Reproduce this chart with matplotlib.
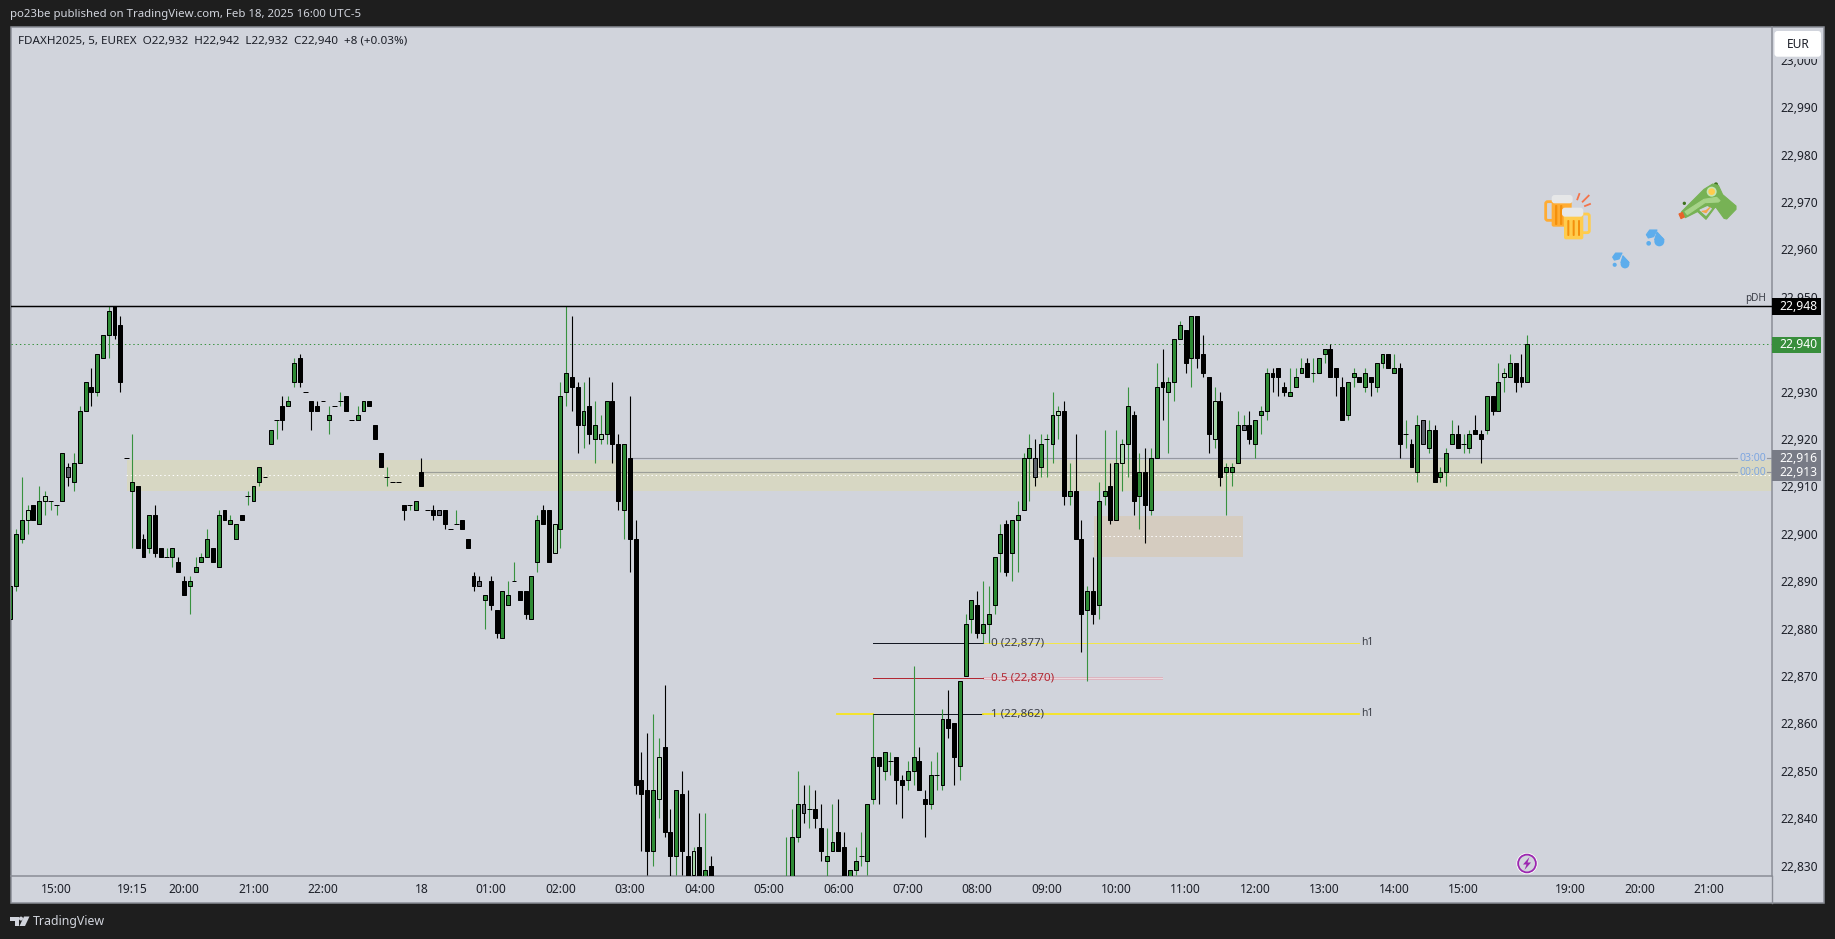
import matplotlib
matplotlib.use("Agg")
import matplotlib.pyplot as plt
from matplotlib.patches import Rectangle, Circle, Polygon, FancyBboxPatch

BASE = 22000
opens = [
882,889,899,903,906,902,907,907,906,907,
914,911,915,926,931,930,937,942,948,944,
916,909,910,899,897,904,897,895,895,894,
890,889,892,894,895,897,893,905,902,899,
904,908,907,911,912,919,924,927,927,932,
937,930,928,927,928,924,927,928,929,924,
924,926,928,923,917,912,911,911,906,906,
905,913,905,905,905,905,901,902,903,899,
891,890,886,890,884,878,885,890,888,888,
882,894,905,905,896,901,930,933,931,923,
927,920,920,921,928,919,905,916,899,848,
846,833,844,855,837,832,845,832,828,834,
826,830,824,821,818,820,817,815,818,816,
819,821,820,823,825,826,836,843,842,842,
838,831,833,837,834,826,829,832,831,844,
853,850,852,853,848,848,850,852,844,843,
849,847,861,860,851,870,882,885,879,881,
885,896,902,896,903,905,916,916,914,920,
919,925,926,908,909,899,884,888,885,908,
910,903,915,919,925,908,913,905,916,932,
930,932,941,943,937,946,938,933,920,928,
913,913,915,922,923,919,925,926,934,935,
931,929,931,934,936,934,934,938,939,935,
931,925,933,933,931,933,931,936,938,934,
935,921,919,913,919,918,922,912,913,919,
921,919,918,922,921,922,929,926,933,933,
936,933,932]
closes = [
889,900,903,905,903,907,908,907,906,917,
912,915,926,932,930,938,942,947,942,932,
916,911,897,895,904,896,895,895,897,892,
887,890,893,895,899,894,904,903,903,902,
903,908,910,914,912,922,924,924,928,936,
932,930,926,926,928,925,927,928,926,924,
925,928,927,920,914,912,911,911,905,906,
907,910,905,904,904,902,901,902,901,897,
889,889,887,885,879,888,887,890,886,883,
891,903,902,894,902,929,934,931,923,926,
921,923,921,928,919,907,919,899,847,845,
833,846,853,837,832,846,833,826,833,825,
829,825,821,818,820,817,815,818,816,819,
821,820,823,825,827,836,843,841,842,840,
833,832,835,833,826,829,831,832,843,853,
851,854,852,848,847,850,853,846,843,849,
849,861,859,853,869,881,886,879,881,883,
895,900,892,903,904,916,918,912,919,920,
925,926,908,909,899,883,888,883,907,909,
903,915,919,927,907,913,906,916,931,931,
932,941,944,936,946,937,934,921,928,912,
914,914,923,923,920,924,926,934,933,933,
930,930,933,935,933,934,937,939,933,933,
924,932,934,932,934,932,936,938,935,935,
919,921,914,923,924,922,911,913,917,921,
918,919,921,921,920,929,926,932,934,936,
932,932,940]
highs = [
891,901,912,906,906,910,909,907,906,917,
915,917,927,932,935,938,942,948,948,946,
916,921,910,900,904,906,897,897,897,895,
891,891,895,896,901,897,905,905,904,902,
904,909,910,914,912,922,924,929,929,937,
938,930,928,928,928,927,927,930,929,924,
927,928,928,923,917,914,911,911,906,906,
907,916,905,906,905,905,901,905,903,899,
892,891,887,891,884,888,890,894,888,888,
891,904,906,905,902,932,948,946,932,932,
933,928,925,928,932,921,919,929,903,854,
858,862,857,868,842,846,850,846,834,841,
841,832,826,823,822,822,819,820,821,822,
823,824,825,827,836,842,850,847,847,846,
843,838,843,844,837,829,834,837,843,862,
853,854,854,853,849,852,872,855,846,852,
854,863,867,860,869,883,886,888,890,889,
895,902,903,903,907,917,921,920,921,921,
930,927,928,915,921,903,889,895,911,922,
915,922,920,931,926,917,918,918,936,939,
933,941,945,943,946,946,942,933,931,930,
915,915,926,925,926,924,927,935,935,935,
932,935,935,937,937,937,937,939,940,935,
933,932,935,933,935,933,936,938,938,938,
936,924,920,925,924,924,923,914,918,924,
923,921,922,925,922,929,929,936,935,938,
936,938,942]
lows = [
882,888,898,900,903,902,904,905,904,907,
910,909,915,926,927,929,937,937,941,930,
916,897,897,895,896,895,895,895,893,892,
887,883,892,894,895,894,893,903,902,899,
903,906,907,910,912,919,920,922,927,931,
931,930,922,926,928,921,927,927,926,924,
924,926,927,920,914,910,911,911,903,905,
905,910,905,903,904,901,901,902,901,897,
888,889,880,884,878,878,885,890,886,882,
882,892,902,894,896,897,927,926,917,918,
919,915,919,919,915,905,899,892,845,833,
828,830,840,836,826,828,828,824,827,823,
825,823,820,816,816,815,813,814,815,815,
817,818,819,822,824,825,835,839,838,838,
831,827,833,833,825,825,828,830,828,843,
843,848,849,843,840,846,847,846,836,842,
846,846,857,847,848,870,879,878,877,877,
883,892,891,890,892,905,907,910,912,912,
915,920,906,906,899,875,869,881,882,906,
902,903,909,912,904,901,898,904,916,924,
917,928,941,934,931,935,933,917,918,910,
904,910,915,922,919,916,921,924,930,929,
929,929,931,934,933,932,934,936,933,929,
924,924,931,932,930,929,930,935,935,934,
916,918,914,911,919,917,911,911,910,919,
918,917,917,921,915,921,925,926,930,933,
930,931,932]
# doji bars whose wick is green
green_dojis = [7,8,27,41,46,57,65,69,77,87,138,147,152,160,179,225,241,251]
pale_bars = [3,6,94,102,112,118,181,192,208,258]
grey_bars = [10,74,81,137,177,213,244]

time_ticks = [8,21,30,42,54,71,83,95,107,119,131,143,155,167,179,191,203,215,227,239,251,269.4,281.4,293.4]
time_labels = ["15:00","19:15","20:00","21:00","22:00","18","01:00","02:00","03:00","04:00","05:00","06:00",
               "07:00","08:00","09:00","10:00","11:00","12:00","13:00","14:00","15:00","19:00","20:00","21:00"]
price_ticks = [22830+10*i for i in range(18)]

pdh = 22948
last_close = 22940
level_0300 = 22916
level_0000 = 22913
zone_top, zone_bottom, zone_mid = 22915.6, 22909, 22912.5
box_top, box_bottom, box_mid = 22903.8, 22895, 22899.5
fib0, fib05, fib1 = 22877, 22869.5, 22862

W, H = 1835, 939
BAR0_PX, BAR_PX = 10.3, 5.79
TOP_PX, BOTTOM_PX = 27, 876
LEFT_PX, AXIS_PX = 10.5, 1771.5
PT_PX = 4.739
P_REF, P_REF_PX = 22948, 306.3

DARK = "#1e1e1e"
PANEL = "#d1d4dc"
EDGE = "#8a8d96"
GREEN = "#2e8b35"
WICK_G = "#38923f"
TXT = "#1c1f28"
FONT = "Noto Sans"
plt.rcParams["font.family"] = [FONT, "DejaVu Sans"]

fig = plt.figure(figsize=(W/100, H/100), dpi=100, facecolor=DARK)

def full_axes(z):
    a = fig.add_axes([0, 0, 1, 1], zorder=z)
    a.set_xlim(0, W); a.set_ylim(H, 0); a.axis("off")
    a.patch.set_alpha(0)
    return a

bg = full_axes(0)
bg.add_patch(Rectangle((LEFT_PX, TOP_PX), 1824-LEFT_PX, 903-TOP_PX, fc=PANEL, ec=EDGE, lw=1.1))

ax = fig.add_axes([LEFT_PX/W, 1-BOTTOM_PX/H, (AXIS_PX-LEFT_PX)/W, (BOTTOM_PX-TOP_PX)/H], zorder=1)
ax.patch.set_alpha(0)
ax.set_xlim((LEFT_PX-BAR0_PX)/BAR_PX, (AXIS_PX-BAR0_PX)/BAR_PX)
ax.set_ylim(P_REF-(BOTTOM_PX-P_REF_PX)/PT_PX, P_REF+(P_REF_PX-TOP_PX)/PT_PX)
for s in ("top", "left"):
    ax.spines[s].set_visible(False)
for s in ("right", "bottom"):
    ax.spines[s].set_color(EDGE); ax.spines[s].set_linewidth(1.1)

ax.yaxis.tick_right()
ax.set_yticks(price_ticks)
ax.set_yticklabels([f"{p:,}" for p in price_ticks])
ax.set_xticks(time_ticks)
ax.set_xticklabels(time_labels)
ax.tick_params(axis="y", length=0, pad=6.5, labelsize=8.6, labelcolor=TXT)
ax.tick_params(axis="x", length=0, pad=5.0, labelsize=8.6, labelcolor=TXT)
for lab in ax.get_xticklabels():
    if lab.get_text() == "18":
        lab.set_fontweight("bold")

LW = 0.72
DOT = (0, (1.4, 2.8))
right_end = ax.get_xlim()[1]
left_end = ax.get_xlim()[0]

# zones
ax.fill_between([20.1, right_end], zone_bottom, zone_top, color="#d7d7c3", lw=0, zorder=1)
ax.plot([20.0, right_end], [zone_mid]*2, color="white", lw=LW, ls=DOT, zorder=2)
ax.fill_between([187.2, 212.9], box_bottom, box_top, color="#d5ccc0", lw=0, zorder=1)
ax.plot([186.9, 212.6], [box_mid]*2, color="white", lw=LW, ls=DOT, zorder=2)

# session levels
ax.plot([107.3, 298.2], [level_0300]*2, color="#9598a1", lw=0.85, zorder=2)
ax.plot([71, 298.2], [level_0000]*2, color="#9c9f98", lw=0.85, zorder=2)
ax.plot([303.4, right_end], [level_0300]*2, color="#9598a1", lw=0.85, zorder=2)
ax.plot([303.4, right_end], [level_0000]*2, color="#9598a1", lw=0.85, zorder=2)

# last price
ax.plot([left_end, right_end], [last_close]*2, color="#38923f", lw=LW, ls=DOT, zorder=2)

# fib levels
ax.plot([168, 233], [fib0]*2, color="#f2e64a", lw=0.72, zorder=2)
ax.plot([149, 168], [fib0]*2, color="#131722", lw=LW, zorder=2)
ax.fill_between([168, 199], fib05-0.3, fib05+0.3, color="#dcb4bf", lw=0, zorder=1)
ax.plot([168, 199], [fib05]*2, color="white", lw=LW, ls=(0, (1, 1)), zorder=2)
ax.plot([149, 168], [fib05]*2, color="#b22833", lw=LW, zorder=2)
ax.plot([142.8, 149], [fib1]*2, color="#f7e51e", lw=1.3, zorder=2)
ax.plot([149, 168], [fib1]*2, color="#131722", lw=LW, zorder=2)
ax.plot([168, 233], [fib1]*2, color="#f7e51e", lw=1.3, zorder=2)

# candles
for i, (o, h, l, c) in enumerate(zip(opens, highs, lows, closes)):
    o, h, l, c = o+BASE, h+BASE, l+BASE, c+BASE
    up = c > o or i in green_dojis
    wick = WICK_G if up else "black"
    if h > l:
        ax.plot([i, i], [l, h], color=wick, lw=0.8, zorder=3, solid_capstyle="butt")
    if o == c:
        ax.plot([i-0.42, i+0.42], [o, o], color="black", lw=LW, zorder=4, solid_capstyle="butt")
    else:
        if i in pale_bars:
            fill = "#a5d6a7"
        elif i in grey_bars:
            fill = "#5d606b"
        elif c > o:
            fill = GREEN
        else:
            fill = "black"
        ax.bar(i, abs(c-o), bottom=min(o, c), width=0.68, color=fill, edgecolor="black", linewidth=LW, zorder=4)

# previous-day-high line goes over the candles
ax.plot([left_end, right_end], [pdh]*2, color="black", lw=1.05, zorder=5)

# fib labels
lx = 169.4
ax.text(lx, fib0, "0 (22,877)", color="#3a3d46", fontsize=8.4, va="center", zorder=6)
ax.text(lx, fib05, "0.5 (22,870)", color="#b22833", fontsize=8.4, va="center", zorder=6)
ax.text(lx, fib1, "1 (22,862)", color="#3a3d46", fontsize=8.4, va="center", zorder=6)
ax.text(234.4, fib0, "h1", color="#3a3d46", fontsize=7.4, va="center", ha="center", zorder=6)
ax.text(234.4, fib1, "h1", color="#3a3d46", fontsize=7.4, va="center", ha="center", zorder=6)

# overlay
ov = full_axes(2)
ov.plot([AXIS_PX, AXIS_PX], [876, 903], color=EDGE, lw=1.0)
ov.text(10, 15, "po23be published on TradingView.com, Feb 18, 2025 16:00 UTC-5", color="#d1d4dc",
        fontsize=8.22, va="center")
ov.text(18, 41, "FDAXH2025, 5, EUREX  O22,932  H22,942  L22,932  C22,940  +8 (+0.03%)", color=TXT,
        fontsize=8.4, va="center")
ov.text(1756, 298.7, "pDH", color="#3a3d46", fontsize=7.2, va="center", ha="center")
ov.text(1753, 458.3, "03:00", color="#7ea6e0", fontsize=7.6, va="center", ha="center")
ov.text(1753, 472.5, "00:00", color="#7ea6e0", fontsize=7.6, va="center", ha="center")

def price_box(y0, y1, color, label, yc):
    ov.add_patch(Rectangle((AXIS_PX, y0), 1821-AXIS_PX, y1-y0, fc=color, ec="none"))
    ov.text(1798, yc, label, color="white", fontsize=8.7, fontweight="bold", va="center", ha="center")

price_box(298, 315, "black", "22,948", 306)
price_box(337, 353, "#388e3c", "22,940", 345)
price_box(450, 481, "#787b86", "22,916", 458)
ov.text(1798, 472.5, "22,913", color="white", fontsize=8.7, fontweight="bold", va="center", ha="center")

ov.add_patch(Rectangle((1772.5, 28), 50, 31, fc=PANEL, ec="none"))
ov.add_patch(FancyBboxPatch((1774.5, 31), 46.5, 25.7, boxstyle="round,pad=0,rounding_size=3", fc="white", ec="none"))
ov.text(1798, 44.5, "EUR", color=TXT, fontsize=8.6, va="center", ha="center")

# bolt icon
ov.add_patch(Circle((1527, 863.5), 10.6, fc="white", ec="none"))
ov.add_patch(Circle((1527, 863.5), 8.9, fc=PANEL, ec="#9c27b0", lw=1.3))
ov.add_patch(Polygon([(1529.5, 857), (1523, 864.5), (1526.5, 864.5), (1524.5, 870), (1531, 862.5), (1527.5, 862.5)],
                     fc="#9c27b0", ec="none"))

# emojis, given in 3x crop coordinates around (1500, 170)
ex = lambda x: 1500 + x/3
ey = lambda y: 170 + y/3
def poly(pts, color, z=3):
    ov.add_patch(Polygon([(ex(a), ey(b)) for a, b in pts], fc=color, ec=color, lw=0.8, joinstyle="round", zorder=z))
def disc(x, y, r, color, z=3):
    ov.add_patch(Circle((ex(x), ey(y)), r/3, fc=color, ec="none", zorder=z))
def rrect(x0, y0, x1, y1, color, z=3, rad=2):
    ov.add_patch(FancyBboxPatch((ex(x0), ey(y0)), (x1-x0)/3, (y1-y0)/3,
                                boxstyle=f"round,pad=0,rounding_size={rad}", fc=color, ec="none", zorder=z))

# back mug
ov.add_patch(FancyBboxPatch((ex(137), ey(95)), 30/3, 56/3, boxstyle="round,pad=0,rounding_size=2",
                            fc="none", ec="#ffac33", lw=2.0, zorder=3))
rrect(155, 90, 215, 170, "#ffac33", 3)
for sx in (165, 180):
    rrect(sx, 105, sx+7, 165, "#f4900c", 3, 1)
rrect(155, 75, 218, 100, "#e6e7e8", 3, 3)
# front mug
ov.add_patch(FancyBboxPatch((ex(240), ey(132)), 28/3, 56/3, boxstyle="round,pad=0,rounding_size=2",
                            fc="none", ec="#ffcc4d", lw=2.0, zorder=4))
rrect(192, 125, 250, 208, "#ffcc4d", 4)
for sx in (202, 218, 234):
    rrect(sx, 150, sx+6, 198, "#f4900c", 4, 1)
rrect(186, 113, 250, 140, "#e6e7e8", 4, 3)
# sparks
ov.plot([ex(232), ex(238)], [ey(88), ey(72)], color="#f4734a", lw=1.3)
ov.plot([ex(248), ex(266)], [ey(95), ey(77)], color="#f4734a", lw=1.3)
ov.plot([ex(255), ex(270)], [ey(108), ey(102)], color="#f4734a", lw=1.3)

# drops
BLUE = "#5dadec"
for dx, dy, sc in ((0, 0, 1.0), (-103, 68, 0.88)):
    cx, cy = 478 + dx, 214 + dy
    disc(cx, cy, 15*sc, BLUE)
    poly([(cx-14*sc, cy-5*sc), (cx+14*sc, cy-5*sc), (cx-7*sc, cy-28*sc)], BLUE)
    ox, oy = 455 + dx, 190 + dy
    poly([(ox+16*sc, oy-10*sc), (ox-6*sc, oy-10*sc), (ox-16*sc, oy+4*sc), (ox-10*sc, oy+14*sc), (ox+6*sc, oy+10*sc)], BLUE)
    disc(ox-9*sc, oy+30*sc, 7*sc, BLUE)

# water gun
poly([(545, 125), (612, 58), (638, 42), (655, 46), (668, 74), (708, 108), (708, 118), (680, 147),
      (672, 145), (648, 112), (610, 116), (556, 143)], "#77b255")
poly([(590, 122), (618, 148), (645, 112), (628, 104)], "#77b255")
poly([(600, 120), (618, 136), (634, 116), (622, 110)], PANEL, 4)
poly([(606, 124), (618, 128), (630, 112), (618, 122)], "#f4a64a", 5)
poly([(555, 125), (612, 88), (650, 82), (660, 92), (655, 96), (615, 98), (562, 134)], "#a6d388", 4)
poly([(537, 132), (547, 127), (553, 141), (543, 146)], "#e8622a", 5)
disc(635, 65, 15, "#c6e5b3", 5)
disc(635, 65, 10, "#ffcc4d", 6)
disc(648, 43, 6, "#3e721d", 2)
disc(553, 100, 5, "#3e721d", 2)

# footer
ov.add_patch(Polygon([(10, 916.5), (19, 916.5), (19, 926), (15, 926), (15, 920.5), (10, 920.5)], fc="#d1d4dc", ec="none"))
ov.add_patch(Circle((21, 918.6), 2, fc="#d1d4dc", ec="none"))
ov.add_patch(Polygon([(24, 916.5), (29.5, 916.5), (25, 926), (19.5, 926)], fc="#d1d4dc", ec="none"))
ov.text(33, 921.5, "TradingView", color="#d1d4dc", fontsize=8.9, fontweight="medium", va="center")

assert len(opens) == len(closes) == len(highs) == len(lows) == 263
fig.savefig("out.png", dpi=100, facecolor=DARK)
